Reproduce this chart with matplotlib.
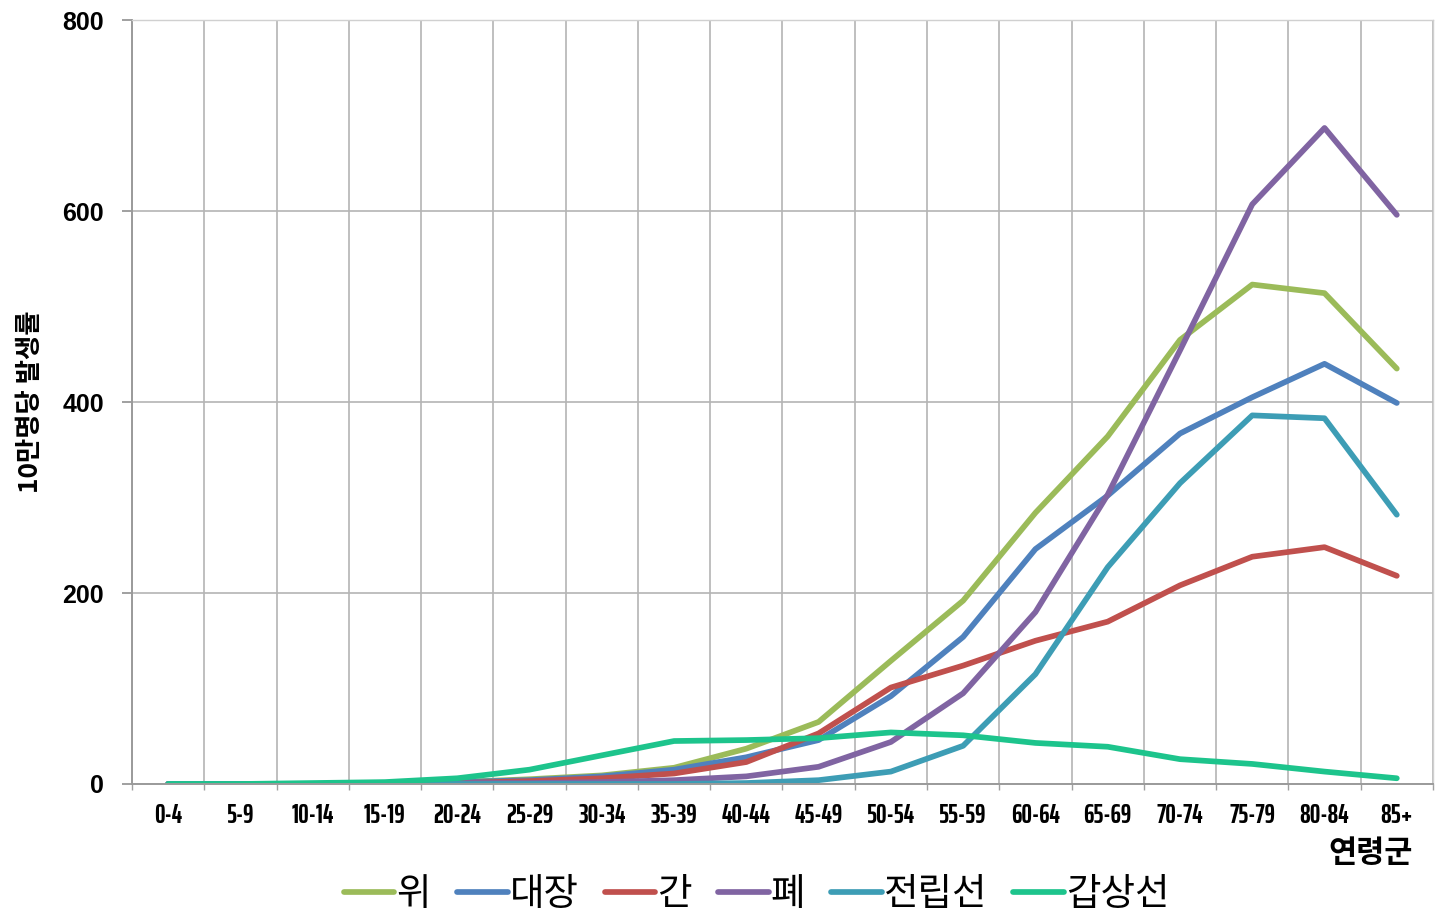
import matplotlib
matplotlib.use("Agg")
import matplotlib.pyplot as plt
import numpy as np

# age groups and incidence per 100k
ages = ['0-4', '5-9', '10-14', '15-19', '20-24', '25-29', '30-34', '35-39', '40-44',
        '45-49', '50-54', '55-59', '60-64', '65-69', '70-74', '75-79', '80-84', '85+']

stomach  = [0, 0, 0, 1, 2, 5, 9, 17, 37, 65, 129, 192, 284, 364, 465, 523, 514, 435]
colon    = [0, 0, 0, 1, 2, 4, 8, 15, 28, 46, 92, 154, 246, 302, 367, 405, 440, 399]
liver    = [0, 0, 0, 0, 1, 3, 6, 11, 23, 53, 101, 124, 150, 170, 208, 238, 248, 218]
lung     = [0, 0, 0, 0, 1, 1, 2, 4, 8, 18, 44, 95, 180, 303, 454, 607, 687, 596]
prostate = [0, 0, 0, 0, 0, 0, 0, 0, 1, 4, 13, 40, 115, 227, 315, 386, 383, 282]
thyroid  = [0, 0, 1, 2, 6, 15, 30, 45, 46, 48, 54, 51, 43, 39, 26, 21, 13, 6]

names = ['위', '대장', '간', '폐', '전립선', '갑상선']
colors = ['#9BBB59', '#4F81BD', '#C0504D', '#8064A2', '#3D9DB5', '#1DC48C']
series = [stomach, colon, liver, lung, prostate, thyroid]

kr = ['Noto Sans CJK KR', 'DejaVu Sans']
plt.rcParams['font.family'] = ['Liberation Sans', 'Noto Sans CJK KR', 'DejaVu Sans']

fig = plt.figure(figsize=(14.41, 9.23), dpi=100)
ax = fig.add_axes([0.0916, 0.1506, 0.9028, 0.8277])

x = np.arange(len(ages))
for vals, name, c in zip(series, names, colors):
    ax.plot(x, vals, color=c, lw=4.1, label=name, solid_capstyle='round',
            solid_joinstyle='round')

ax.set_xlim(-0.5, len(ages) - 0.5)
ax.set_ylim(0, 800)
ax.set_yticks([0, 200, 400, 600, 800])
ax.set_yticklabels(['0', '200', '400', '600', '800'], fontsize=18, fontweight='bold',
                   family=['Liberation Sans', 'DejaVu Sans'])
ax.tick_params(axis='y', length=7, width=1.2, color='#909090', pad=13)

# squeezed age labels like the original
ax.set_xticks(x)
ax.set_xticklabels(ages, fontsize=19, fontweight='bold',
                   family=['Saira ExtraCondensed', 'Liberation Sans'])
ax.tick_params(axis='x', which='major', length=0, pad=14)
ax.set_xticks(np.arange(-0.5, len(ages)), minor=True)
ax.tick_params(axis='x', which='minor', length=4, width=1, color='#a0a0a0')

ax.grid(True, axis='y', which='major', color='#b4b4b4', lw=1.2)
ax.grid(True, axis='x', which='minor', color='#b4b4b4', lw=1.2)
ax.set_axisbelow(True)

for s in ['left', 'bottom']:
    ax.spines[s].set_color('#9a9a9a')
    ax.spines[s].set_linewidth(1.4)
for s in ['top', 'right']:
    ax.spines[s].set_color('#d0d0d0')
    ax.spines[s].set_linewidth(1.0)

fig.text(0.021, 0.565, '10만명당 발생률', rotation=90, ha='center', va='center',
         fontsize=19, fontweight='bold', family=kr)
fig.text(0.951, 0.076, '연령군', ha='center', va='center', fontsize=22, fontweight='bold',
         family=kr)

fig.legend(loc='center', bbox_to_anchor=(0.525, 0.031), ncol=6, frameon=False,
           prop={'family': kr, 'size': 27},
           handlelength=1.35, handletextpad=0.05, columnspacing=0.7)

fig.savefig('out.png', dpi=100)
